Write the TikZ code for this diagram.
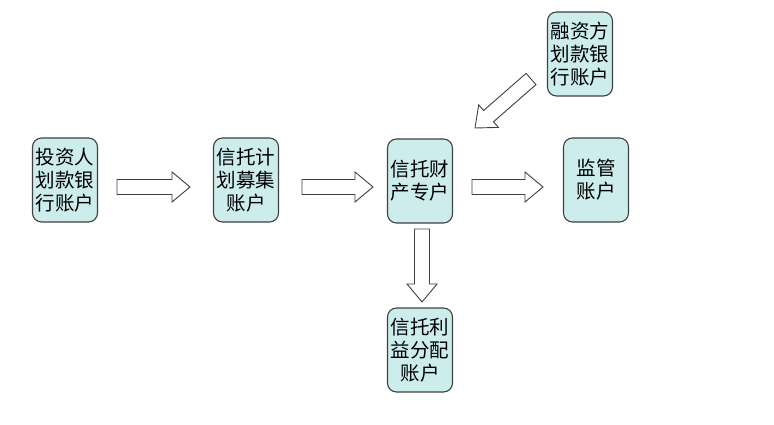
\documentclass[tikz,border=0pt]{standalone}
\usepackage{fontspec}
\newfontfamily\cjk{Noto Sans CJK SC}
\usetikzlibrary{calc}
\definecolor{boxfill}{RGB}{205,236,236}
\definecolor{edge}{RGB}{64,64,64}
\tikzset{
  acct/.style={draw=edge, line width=1.1pt, fill=boxfill, rounded corners=9pt,
    minimum width=65pt, minimum height=84pt, inner sep=0pt, align=center,
    font=\cjk\fontsize{19.5}{23}\selectfont},
  barrow/.style={draw=edge, line width=0.9pt, fill=white, line join=miter}
}
\newcommand\blockarrow[2]{%
  \draw[barrow] let \p1=(#1), \p2=(#2),
    \n1={atan2(\y2-\y1,\x2-\x1)}, \n2={veclen(\x2-\x1,\y2-\y1)} in
    [shift={(\p1)}, rotate=\n1]
    (0,-7.5) -- (\n2-18,-7.5) -- (\n2-18,-15) -- (\n2,0) -- (\n2-18,15)
    -- (\n2-18,7.5) -- (0,7.5) -- cycle;}
\begin{document}
\begin{tikzpicture}[x=1pt,y=1pt]
\useasboundingbox (0,0) rectangle (774,-425);
\node[acct] (inv) at (65,-180) {投资人\\划款银\\行账户};
\node[acct] (raise) at (246,-180) {信托计\\划募集\\账户};
\node[acct] (prop) at (420,-181) {信托财\\产专户};
\node[acct] (sup) at (596,-180) {监管\\账户};
\node[acct] (fin) at (580,-54) {融资方\\划款银\\行账户};
\node[acct] (dist) at (420,-350) {信托利\\益分配\\账户};
\coordinate (a1s) at (117,-187); \coordinate (a1e) at (190,-187);
\coordinate (a2s) at (302,-187); \coordinate (a2e) at (373,-187);
\coordinate (a3s) at (472,-187); \coordinate (a3e) at (543,-187);
\coordinate (a4s) at (422,-229); \coordinate (a4e) at (422,-302);
\coordinate (a5s) at (531,-79); \coordinate (a5e) at (475,-128);
\blockarrow{a1s}{a1e}
\blockarrow{a2s}{a2e}
\blockarrow{a3s}{a3e}
\blockarrow{a4s}{a4e}
\blockarrow{a5s}{a5e}
\end{tikzpicture}
\end{document}
